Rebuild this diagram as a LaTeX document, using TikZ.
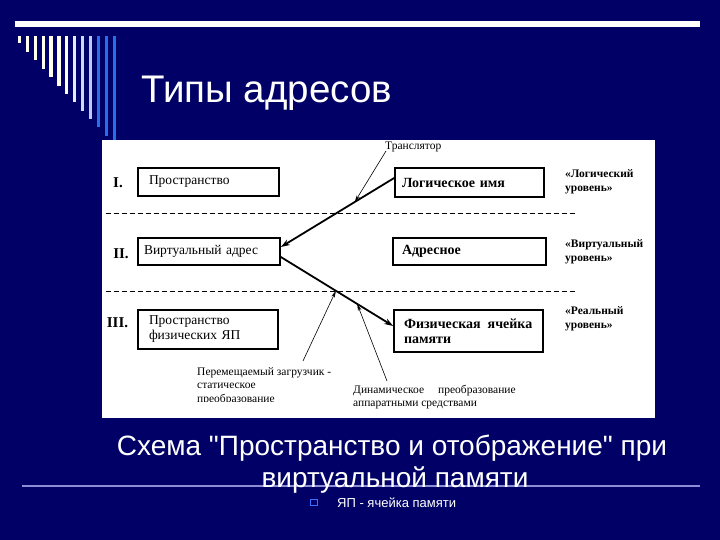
\documentclass[tikz,border=0pt]{standalone}
\usepackage{fontspec}
\setmainfont{Liberation Serif}
\newfontfamily\arialf{Liberation Sans}
\usetikzlibrary{arrows.meta,calc}
\definecolor{navy}{RGB}{0,0,102}
\definecolor{barA}{RGB}{255,255,238}
\definecolor{barB}{RGB}{228,234,255}
\definecolor{barC}{RGB}{205,218,255}
\definecolor{barD}{RGB}{185,203,255}
\definecolor{barE}{RGB}{40,110,232}
\definecolor{lav}{RGB}{140,140,215}
\definecolor{bulblue}{RGB}{60,110,255}
\begin{document}
\begin{tikzpicture}[x=1pt,y=-1pt,
  boxnode/.style={draw=black,line width=1.7pt,inner ysep=0pt,align=left,anchor=center},
  boxtxt/.style={font=\fontsize{13.5}{15}\selectfont},
  boldtxt/.style={font=\bfseries\fontsize{14}{15}\selectfont},
  romanlab/.style={font=\bfseries\fontsize{15}{17}\selectfont,inner sep=0pt},
  rightlab/.style={font=\bfseries\fontsize{11.5}{14}\selectfont,inner sep=0pt,align=left,anchor=west},
  anntxt/.style={font=\fontsize{11.5}{13.5}\selectfont,inner sep=0pt,align=left},
  dashline/.style={dash pattern=on 5pt off 3pt,line width=0.8pt},
  thickarrow/.style={line width=1.8pt,-{Stealth[length=9pt,width=6pt]}},
  thinarrow/.style={line width=0.6pt,-{Stealth[length=7pt,width=3.5pt]}},
  captext/.style={white,font=\arialf\fontsize{28}{32}\selectfont,inner sep=0pt}
]
\useasboundingbox (0,0) rectangle (720,540);
\fill[navy] (0,0) rectangle (720,540);
% top decoration
\fill[white] (15,21.5) rectangle (700,27);
\foreach \x/\b/\c in {19.3/43/barA,27.2/52/barA,35.1/60/barA,43.1/69/barA,51.0/77/barA,58.9/86/barA,66.8/94/barA,74.7/102/barB,82.7/111/barC,90.6/119/barD,98.5/127/barE,106.4/136/barE,114.3/146/barE}
  \fill[\c] (\x-1.6,36) rectangle (\x+1.6,\b);
% title
\node[anchor=base west,white,inner sep=0pt,font=\arialf\fontsize{38.5}{44}\selectfont] (title) at (141,103) {Типы адресов};
% panel
\fill[white] (102,140) rectangle (655,418);
% dashed separators
\draw[dashline] (106,213) -- (575,213);
\draw[dashline] (106,291) -- (575,291);
% roman numerals
\node[romanlab] (r1) at (118,182.5) {I.};
\node[romanlab] (r2) at (121,254) {II.};
\node[romanlab] (r3) at (117.5,323) {III.};
% left boxes
\node[boxnode,boxtxt,text width=119pt,inner xsep=11pt,minimum height=28pt] (sp) at (208.5,182) {Пространство};
\node[boxnode,boxtxt,text width=130pt,inner xsep=6pt,minimum height=27pt] (virt) at (209,251.5) {Виртуальный адрес};
\node[boxnode,boxtxt,text width=118pt,inner xsep=11pt,minimum height=39pt] (phs) at (208,329.5) {Пространство\\физических ЯП};
% right boxes
\node[boxnode,boldtxt,text width=135pt,inner xsep=7pt,minimum height=29pt] (log) at (469.5,182.5) {Логическое имя};
\node[boxnode,boldtxt,text width=135pt,inner xsep=9pt,minimum height=27pt] (adr) at (469.5,251.5) {Адресное};
\node[boxnode,boldtxt,text width=135pt,inner xsep=7pt,minimum height=42pt] (fiz) at (468.5,331) {\hspace{3pt}Физическая\hspace{7pt}ячейка\\\hspace{3pt}памяти};
% level labels
\node[rightlab] (l1) at (565,182) {«Логический\\уровень»};
\node[rightlab] (l2) at (565,252) {«Виртуальный\\уровень»};
\node[rightlab] (l3) at (565,319) {«Реальный\\уровень»};
% main arrows
\draw[thickarrow] ([yshift=4.5pt]log.west) -- coordinate[pos=0.348] (t1) ([yshift=4.5pt]virt.east);
\draw[thickarrow] ([yshift=-5.5pt]virt.east) -- coordinate[pos=0.49] (t2) coordinate[pos=0.68] (t3) ([yshift=5pt]fiz.west);
% annotations
\node[anntxt,anchor=west] (tr) at (385,146.5) {Транслятор};
\coordinate (trs) at (386,151);
\draw[thinarrow] (trs) -- (t1);
\begin{scope}
  \clip (190,360) rectangle (345,401);
  \node[anntxt,anchor=west] (ld) at (197,386) {Перемещаемый загрузчик -\\статическое\\преобразование};
\end{scope}
\coordinate (lds) at (303,361);
\draw[thinarrow] (lds) -- (t2);
\node[anntxt,anchor=west] (dyn) at (353,397) {Динамическое\hspace{14pt}преобразование\\аппаратными средствами};
\coordinate (dys) at (387,381);
\draw[thinarrow] (dys) -- (t3);
% bottom
\draw[lav,line width=2pt] (22,486) -- (700,486);
\node[captext,anchor=base] (c1) at (392,455) {Схема "Пространство и отображение" при};
\node[captext,anchor=base] (c2) at (395,487) {виртуальной памяти};
\node[draw=bulblue,line width=0.8pt,minimum size=6.5pt,inner sep=0pt] (bul) at (314,502.5) {};
\node[anchor=base west,white,inner sep=0pt,font=\arialf\fontsize{13}{15}\selectfont] (yp) at (337,507) {ЯП - ячейка памяти};
\end{tikzpicture}
\end{document}
